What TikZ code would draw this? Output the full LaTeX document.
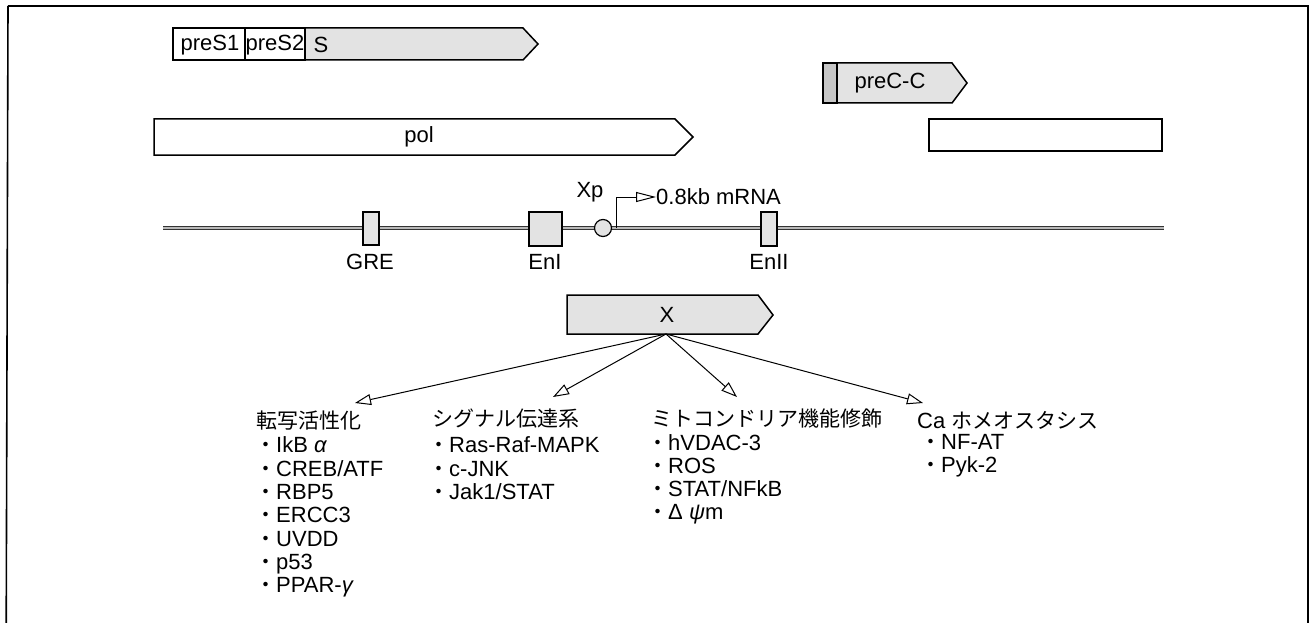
\documentclass[tikz,border=0pt]{standalone}
\usepackage{fontspec}
\setmainfont{Liberation Sans}
\newfontfamily\jp{Noto Sans CJK JP}
\newcommand\jpt{\jp\fontsize{21}{23}\selectfont}
\usetikzlibrary{arrows.meta}
\tikzset{
  box/.style={draw=black, line width=1.5pt, line join=miter},
  stip/.style={box, fill=gray!22},
  dark/.style={box, fill=gray!45},
  lbl/.style={inner sep=0pt, font=\fontsize{22}{23}\selectfont},
  item/.style={lbl, anchor=base west},
  conn/.style={line width=1pt, -{Triangle[open, length=16pt, width=11pt]}},
  promarrow/.style={line width=1pt, -{Triangle[open, length=20pt, width=10pt]}},
  dna/.style={line width=1.4pt, draw=black!80, double=gray!55, double distance=1.8pt}
}
\begin{document}
\begin{tikzpicture}[x=1pt,y=-1pt]
\useasboundingbox (0,0) rectangle (1316,623);
\clip (0,0) rectangle (1316,623);
% frame
\draw[line width=1.6pt] (8,6) -- (1308,6) -- (1308,700) (8,6) -- (6,700);

% preS1 / preS2 / S
\draw[box, fill=white] (173,28) rectangle (245,60);
\draw[box, fill=white] (245,28) rectangle (305,60);
\draw[stip] (305,28) -- (523,28) -- (538,44) -- (523,60) -- (305,60) -- cycle;
\node[lbl] (preS1) at (210,45) {preS1};
\node[lbl] (preS2) at (275,45) {preS2};
\node[lbl] (S) at (321,45) {S};

% preC-C
\draw[dark] (823,63) rectangle (837,103);
\draw[stip] (837,63) -- (952,63) -- (967,83) -- (952,103) -- (837,103) -- cycle;
\node[lbl] (preC) at (890,83) {preC-C};

% pol
\draw[box, fill=white] (154,119) -- (675,119) -- (693,137) -- (675,155) -- (154,155) -- cycle;
\node[lbl] (pol) at (419,137) {pol};
\draw[box, fill=white] (929,119) rectangle (1162,151);

% DNA line
\draw[dna] (163,228) -- (1164,228);
\draw[stip] (363,212) rectangle (379,245);
\draw[stip] (529,212) rectangle (562,246);
\draw[stip] (761,212) rectangle (777,246);
\draw[stip, line width=1.2pt] (603,228) circle (8.5);
\node[lbl] (GRE) at (370,262) {GRE};
\node[lbl] (EnI) at (545,262) {EnI};
\node[lbl] (EnII) at (769,262) {EnII};
\node[lbl] (Xp) at (590,192) {Xp};
\coordinate (prom) at (616,228);
\node[lbl, anchor=west] (mrna) at (656,197) {0.8kb mRNA};
\draw[promarrow] (prom) |- (mrna.west);

% X
\draw[stip] (567,295) -- (758,295) -- (773,315) -- (758,334) -- (567,334) -- cycle;
\node[lbl] (X) at (667,315) {X};
\coordinate (xo) at (666,334);
\coordinate (t1) at (355,403);
\coordinate (t2) at (553,397);
\coordinate (t3) at (737,397);
\coordinate (t4) at (923,403);
\draw[conn] (xo) -- (t1);
\draw[conn] (xo) -- (t2);
\draw[conn] (xo) -- (t3);
\draw[conn] (xo) -- (t4);

% column 1
\node[item] (h1) at (256,428) {\jpt 転写活性化};
\node[item] (a1) at (255,452.5) {{\jpt ・}IkB \textit{α}};
\node[item] (a2) at (255,476) {{\jpt ・}CREB/ATF};
\node[item] (a3) at (255,499) {{\jpt ・}RBP5};
\node[item] (a4) at (255,522) {{\jpt ・}ERCC3};
\node[item] (a5) at (255,546) {{\jpt ・}UVDD};
\node[item] (a6) at (255,569) {{\jpt ・}p53};
\node[item] (a7) at (255,592) {{\jpt ・}PPAR-\textit{γ}};

% column 2
\node[item] (h2) at (432,426) {\jpt シグナル伝達系};
\node[item] (b1) at (428,452.5) {{\jpt ・}Ras-Raf-MAPK};
\node[item] (b2) at (428,476) {{\jpt ・}c-JNK};
\node[item] (b3) at (428,499) {{\jpt ・}Jak1/STAT};

% column 3
\node[item] (h3) at (651,426) {\jpt ミトコンドリア機能修飾};
\node[item] (c1) at (647,450) {{\jpt ・}hVDAC-3};
\node[item] (c2) at (647,473) {{\jpt ・}ROS};
\node[item] (c3) at (647,496.5) {{\jpt ・}STAT/NFkB};
\node[item] (c4) at (647,519.5) {{\jpt ・}Δ \textit{ψ}m};

% column 4
\node[item] (h4) at (917,428) {Ca {\jpt ホメオスタシス}};
\node[item] (d1) at (920,449.5) {{\jpt ・}NF-AT};
\node[item] (d2) at (920,472.5) {{\jpt ・}Pyk-2};
\end{tikzpicture}
\end{document}
